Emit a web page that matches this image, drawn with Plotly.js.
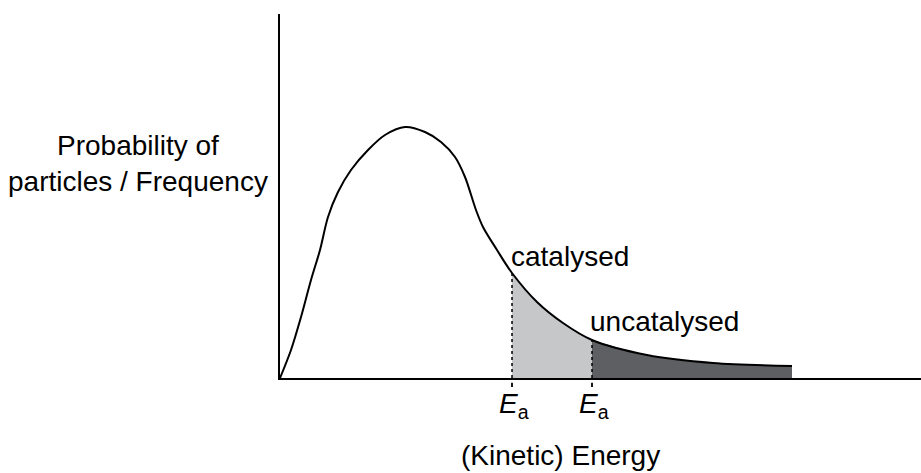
<!DOCTYPE html>
<html>
<head>
<meta charset="utf-8">
<script src="https://cdn.plot.ly/plotly-3.0.1.min.js"></script>
<style>html,body{margin:0;padding:0;background:#fff;}#chart{width:921px;height:473px;}</style>
</head>
<body>
<div id="chart"></div>
<script>
// Energy distribution curve (arbitrary units)
const energy = [0, 11, 21, 31, 40, 48, 58, 71, 88, 105, 125, 145, 161, 175, 185, 196, 203, 217, 232, 257, 283, 312, 367, 433, 512];
const frequency = [0, 28, 61, 98, 128, 161, 186, 208, 228, 243, 251, 246, 236, 221, 201, 168, 151, 128, 105, 76, 55, 38, 23, 15, 12];
// Activation energies
const eaCatalysed = 232;
const eaUncatalysed = 312;
const eaTicks = [eaCatalysed, eaUncatalysed];
const eaText = '<i>E</i><sub>a</sub>';
const labels = {catalysed: 'catalysed', uncatalysed: 'uncatalysed'};
const xTitle = '(Kinetic) Energy';
const yTitle = 'Probability of<br>particles / Frequency';

const FONT = 'Liberation Sans, Arial, sans-serif';
const FS = 28;

function freqAt(e) {
  return frequency[energy.indexOf(e)];
}
function segment(a, b) {
  const xs = [], ys = [];
  energy.forEach((e, i) => { if (e >= a && e <= b) { xs.push(e); ys.push(frequency[i]); } });
  return {xs, ys};
}

const catSeg = segment(eaCatalysed, eaUncatalysed);
const uncSeg = segment(eaUncatalysed, energy[energy.length - 1]);

const traces = [
  {x: catSeg.xs, y: catSeg.ys, type: 'scatter', mode: 'lines', line: {width: 0, shape: 'spline', smoothing: 0.9},
   fill: 'tozeroy', fillcolor: '#c6c7c9', hoverinfo: 'skip', showlegend: false},
  {x: uncSeg.xs, y: uncSeg.ys, type: 'scatter', mode: 'lines', line: {width: 0, shape: 'spline', smoothing: 0.9},
   fill: 'tozeroy', fillcolor: '#5e5f63', hoverinfo: 'skip', showlegend: false},
  {x: [eaCatalysed, eaCatalysed], y: [0, freqAt(eaCatalysed)], type: 'scatter', mode: 'lines',
   line: {color: '#000', width: 1.5, dash: 'dot'}, hoverinfo: 'skip', showlegend: false},
  {x: [eaUncatalysed, eaUncatalysed], y: [0, freqAt(eaUncatalysed)], type: 'scatter', mode: 'lines',
   line: {color: '#000', width: 1.5, dash: 'dot'}, hoverinfo: 'skip', showlegend: false},
  {x: energy, y: frequency, type: 'scatter', mode: 'lines',
   line: {color: '#000', width: 2, shape: 'spline', smoothing: 0.9}, hoverinfo: 'skip', showlegend: false}
];

const annFont = {family: FONT, size: FS, color: '#000'};
const annotations = [
  {text: labels.catalysed, x: 290, y: 122, xref: 'x', yref: 'y', xanchor: 'center', yanchor: 'middle', showarrow: false, font: annFont},
  {text: labels.uncatalysed, x: 384, y: 57, xref: 'x', yref: 'y', xanchor: 'center', yanchor: 'middle', showarrow: false, font: annFont},
  {text: xTitle, x: (560 - 280) / 641, y: -0.214, xref: 'paper', yref: 'paper', xanchor: 'center', yanchor: 'middle', showarrow: false, font: annFont},
  {text: yTitle, x: -0.221, y: 0.588, xref: 'paper', yref: 'paper', xanchor: 'center', yanchor: 'middle', align: 'center', showarrow: false, font: annFont}
];
eaTicks.forEach(e => annotations.push({text: eaText, x: e, y: -0.075, xref: 'x', yref: 'paper', xanchor: 'center', yanchor: 'middle',
  xshift: 2, showarrow: false, font: annFont}));

// small dotted continuation mark just below the axis at each Ea
const shapes = eaTicks.map(e => ({type: 'line', xref: 'x', yref: 'paper', x0: e, x1: e, y0: -0.013, y1: -0.025,
  line: {color: '#000', width: 1.8}}));

const layout = {
  width: 921, height: 473,
  margin: {l: 280, r: 0, t: 14, b: 95},
  paper_bgcolor: '#fff', plot_bgcolor: '#fff',
  font: {family: FONT, size: FS, color: '#000'},
  xaxis: {range: [0, 641], showline: true, linewidth: 2, linecolor: '#000', showgrid: false, zeroline: false,
          showticklabels: false, ticks: '', fixedrange: true},
  yaxis: {range: [0, 364], showline: true, linewidth: 2, linecolor: '#000', showgrid: false, zeroline: false,
          showticklabels: false, ticks: '', fixedrange: true},
  annotations: annotations,
  shapes: shapes
};

Plotly.newPlot('chart', traces, layout, {displayModeBar: false, staticPlot: true});
</script>
</body>
</html>
